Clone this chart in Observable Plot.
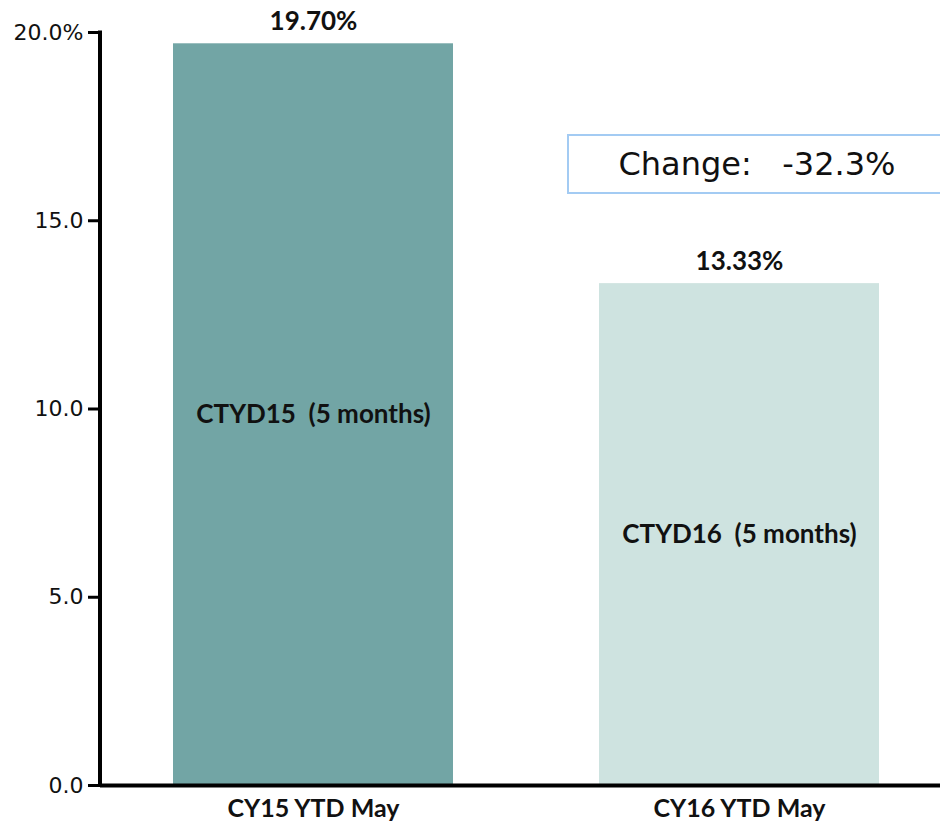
<!DOCTYPE html>
<html>
<head>
<meta charset="utf-8">
<script src="https://cdn.jsdelivr.net/npm/d3@7"></script>
<script src="https://cdn.jsdelivr.net/npm/@observablehq/plot@0.6"></script>
<style>
  html, body { margin: 0; padding: 0; background: white; }
  svg text { white-space: pre; }
</style>
</head>
<body>
<div id="chart"></div>
<script>
const categories = ["CY15 YTD May", "CY16 YTD May"];
const values = [19.70, 13.33];
const valueLabels = ["19.70%", "13.33%"];
const innerLabels = ["CTYD15  (5 months)", "CTYD16  (5 months)"];
const barColors = ["#72a5a5", "#cee3e0"];
const yTicks = [0, 5, 10, 15, 20];
const yTickLabels = ["0.0", "5.0", "10.0", "15.0", "20.0%"];
const changeLabel = "Change:   -32.3%";

const data = categories.map((c, i) => ({
  cat: c, value: values[i], label: valueLabels[i], inner: innerLabels[i], color: barColors[i]
}));

const boldFont = {fontFamily: "Lato", fontWeight: "bold", fontSize: 25, fill: "#111"};
const boldFontL = {...boldFont, fontSize: 26};

const chart = Plot.plot({
  width: 940,
  height: 825,
  marginLeft: 100,
  marginRight: 0,
  marginTop: 32,
  marginBottom: 40,
  style: {fontFamily: "DejaVu Sans", background: "white", overflow: "visible"},
  x: {domain: categories, paddingInner: 0.343, paddingOuter: 0.157, align: 0.545, label: null},
  y: {domain: [0, 20], label: null},
  color: {type: "identity"},
  marks: [
    Plot.barY(data, {x: "cat", y: "value", fill: "color"}),
    Plot.text(data, {x: "cat", y: "value", text: "label", lineAnchor: "bottom", dy: -14, ...boldFontL}),
    Plot.text(data, {x: "cat", y: d => d.value / 2, text: "inner", ...boldFontL}),
    Plot.axisY({
      ticks: yTicks,
      tickFormat: d => yTickLabels[yTicks.indexOf(d)],
      tickSize: 12, tickPadding: 5, strokeWidth: 3,
      fontSize: 22, fill: "#111", label: null
    }),
    Plot.axisX({tickSize: 0, tickPadding: 14, label: null, ...boldFont}),
    Plot.ruleY([0], {strokeWidth: 4, stroke: "black"}),
    (index, scales, values, dims) => {
      const g = d3.create("svg:g");
      g.append("line")
        .attr("x1", dims.marginLeft).attr("x2", dims.marginLeft)
        .attr("y1", scales.y(0) + 2).attr("y2", scales.y(20) - 1.5)
        .attr("stroke", "black").attr("stroke-width", 4);
      // annotation box
      g.append("rect")
        .attr("x", 568).attr("y", 135).attr("width", 380).attr("height", 58)
        .attr("fill", "white").attr("stroke", "#a3cbf3").attr("stroke-width", 2);
      g.append("text")
        .attr("x", 757).attr("y", 164).attr("dy", "0.35em")
        .attr("text-anchor", "middle")
        .attr("font-family", "DejaVu Sans").attr("font-size", 32).attr("fill", "#111")
        .style("white-space", "pre")
        .text(changeLabel);
      return g.node();
    }
  ]
});
document.getElementById("chart").appendChild(chart);
</script>
</body>
</html>
